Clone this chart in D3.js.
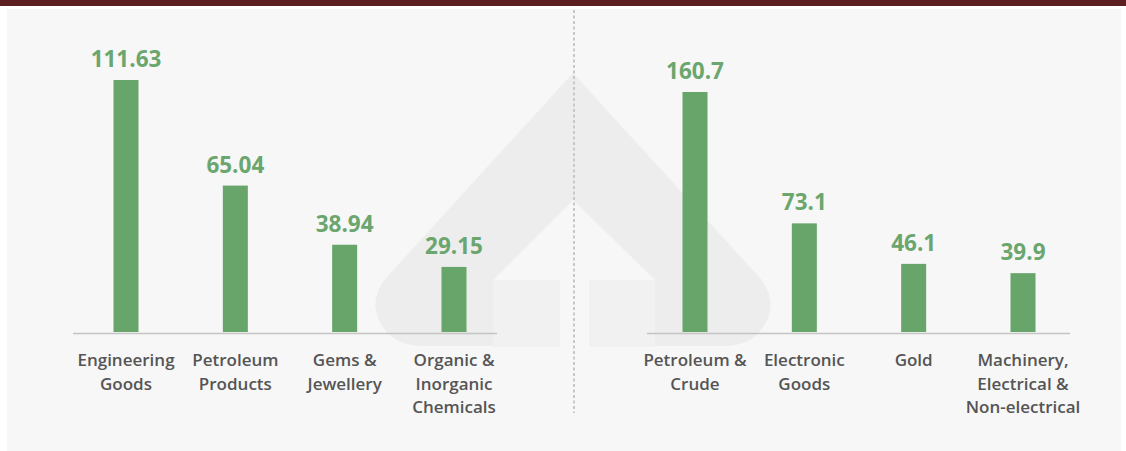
<!DOCTYPE html>
<html>
<head>
<meta charset="utf-8">
<script src="https://cdn.jsdelivr.net/npm/d3@7/dist/d3.min.js"></script>
<style>
  html, body { margin: 0; padding: 0; background: #ffffff; }
  svg { display: block; }
</style>
</head>
<body>
<svg id="chart" width="1126" height="451"></svg>
<script>
// ---- Data ----
const exportCategories = ["Engineering\nGoods", "Petroleum\nProducts", "Gems &\nJewellery", "Organic &\nInorganic\nChemicals"];
const exportValues = [111.63, 65.04, 38.94, 29.15];
const importCategories = ["Petroleum &\nCrude", "Electronic\nGoods", "Gold", "Machinery,\nElectrical &\nNon-electrical"];
const importValues = [160.7, 73.1, 46.1, 39.9];

const W = 1126, H = 451;
const svg = d3.select("#chart");
const barColor = "#67a56b";
const labelGreen = "#6aa66e";
const textColor = "#555555";
const baseY = 333;

// top band and panel
svg.append("rect").attr("x", 0).attr("y", 0).attr("width", W).attr("height", 6).attr("fill", "#5e1f22");
svg.append("rect").attr("x", 7).attr("y", 9).attr("width", 1114).attr("height", 442).attr("fill", "#f7f7f7");

// watermark logo (decorative)
const wm = svg.append("g");
wm.append("path")
  .attr("d", "M573,73 L386,278 Q370,298 378,318 Q390,346 422,346 L724,346 Q756,346 768,318 Q776,298 760,278 Z")
  .attr("fill", "#ededed");
wm.append("path")
  .attr("d", "M573,200 L493,280 L655,280 Z")
  .attr("fill", "#f7f7f7");
wm.append("rect").attr("x", 493).attr("y", 280).attr("width", 67).attr("height", 67).attr("fill", "#f1f1f1");
wm.append("rect").attr("x", 589).attr("y", 280).attr("width", 66).attr("height", 67).attr("fill", "#f1f1f1");
wm.append("rect").attr("x", 560).attr("y", 280).attr("width", 29).attr("height", 67).attr("fill", "#f7f7f7");

// divider
svg.append("line").attr("x1", 574).attr("x2", 574).attr("y1", 10).attr("y2", 413)
  .attr("stroke", "#c8c8c8").attr("stroke-width", 2).attr("stroke-dasharray", "3,2.5");

function drawPanel(cats, vals, x0, x1, lineX0, lineX1, topY, fmt) {
  const x = d3.scalePoint().domain(cats).range([x0, x1]);
  const y = d3.scaleLinear().domain([0, d3.max(vals)]).range([baseY, topY]);
  const g = svg.append("g");
  const bw = 25;
  g.append("line").attr("x1", lineX0).attr("x2", lineX1).attr("y1", baseY + 0.5).attr("y2", baseY + 0.5)
    .attr("stroke", "#c4c4c4").attr("stroke-width", 1.5);
  g.selectAll("rect.bar").data(cats).join("rect")
    .attr("class", "bar")
    .attr("x", d => x(d) - bw / 2)
    .attr("width", bw)
    .attr("y", (d, i) => y(vals[i]))
    .attr("height", (d, i) => baseY - 1 - y(vals[i]))
    .attr("fill", barColor);
  g.selectAll("text.val").data(cats).join("text")
    .attr("class", "val")
    .attr("x", d => x(d))
    .attr("y", (d, i) => y(vals[i]) - 13)
    .attr("text-anchor", "middle")
    .attr("font-family", "'Open Sans', sans-serif")
    .attr("font-weight", 700)
    .attr("font-size", 22.5)
    .attr("fill", labelGreen)
    .text((d, i) => fmt[i]);
  const labels = g.selectAll("text.cat").data(cats).join("text")
    .attr("class", "cat")
    .attr("x", d => x(d))
    .attr("y", 366)
    .attr("text-anchor", "middle")
    .attr("font-family", "'Open Sans', sans-serif")
    .attr("font-weight", 600)
    .attr("font-size", 17)
    .attr("fill", textColor);
  labels.each(function(d) {
    const t = d3.select(this);
    d.split("\n").forEach((line, i) => {
      t.append("tspan").attr("x", x(d)).attr("dy", i === 0 ? 0 : 23.5).text(line);
    });
  });
}

drawPanel(exportCategories, exportValues, 126, 454, 73, 497, 80, exportValues.map(v => v.toFixed(2)));
drawPanel(importCategories, importValues, 695, 1023, 647, 1070, 92, importValues.map(v => v.toFixed(1)));
</script>
</body>
</html>
